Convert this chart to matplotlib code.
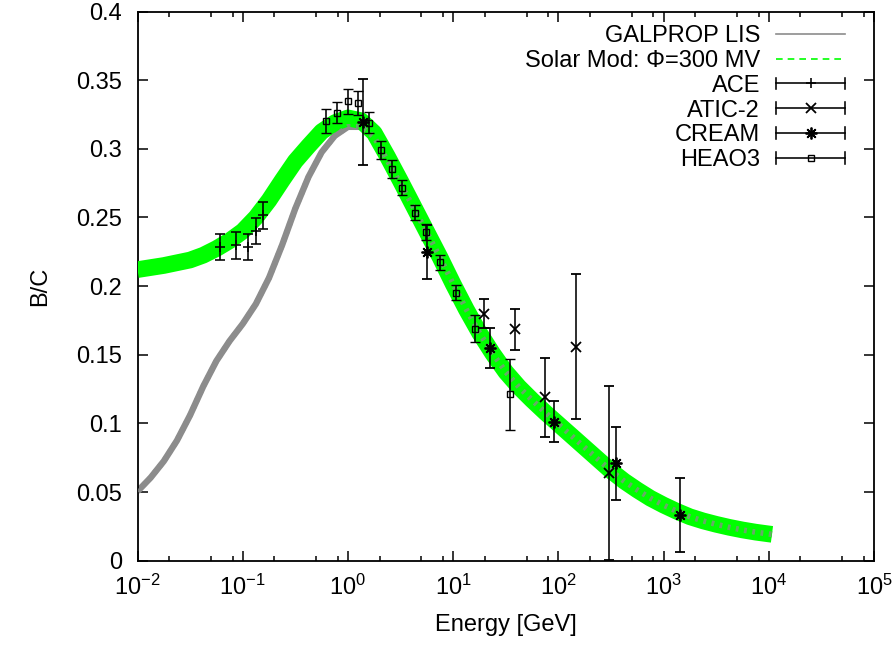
import matplotlib
matplotlib.use('Agg')
import matplotlib.pyplot as plt
from matplotlib.lines import Line2D
from matplotlib.legend_handler import HandlerBase
from matplotlib.ticker import LogLocator, MultipleLocator, FuncFormatter
import numpy as np

plt.rcParams['font.family'] = ['Liberation Sans', 'DejaVu Sans']
plt.rcParams['mathtext.fontset'] = 'custom'
plt.rcParams['mathtext.rm'] = 'Liberation Sans'
plt.rcParams['mathtext.it'] = 'Liberation Sans:italic'
plt.rcParams['mathtext.bf'] = 'Liberation Sans:bold'
plt.rcParams['axes.unicode_minus'] = False

# ---------------- data ----------------
# model curves on a common energy grid [GeV]
energy = [0.01, 0.01334, 0.01778, 0.02371, 0.03162, 0.04217, 0.05623, 0.07499,
          0.1, 0.1334, 0.1778, 0.2371, 0.3162, 0.4217, 0.5623, 0.7499,
          1.0, 1.334, 1.778, 2.371, 3.162, 4.217, 5.623, 7.499,
          10.0, 13.34, 17.78, 23.71, 31.62, 42.17, 56.23, 74.99,
          100.0, 133.4, 177.8, 237.1, 316.2, 421.7, 562.3, 749.9,
          1000.0, 1334.0, 1778.0, 2371.0, 3162.0, 4217.0, 5623.0, 7499.0,
          10000.0, 10720.0]
bc_lis = [0.0505, 0.0605, 0.0725, 0.0875, 0.1060, 0.1270, 0.1455, 0.1600,
          0.1725, 0.1870, 0.2060, 0.2300, 0.2565, 0.2795, 0.2975, 0.3095,
          0.3160, 0.3160, 0.3085, 0.2915, 0.2745, 0.257, 0.239, 0.221,
          0.2015, 0.183, 0.166, 0.151, 0.1375, 0.1265, 0.117, 0.108,
          0.0995, 0.091, 0.0825, 0.074, 0.0655, 0.058, 0.0515, 0.0455,
          0.0405, 0.036, 0.032, 0.029, 0.0265, 0.0243, 0.0224, 0.0208,
          0.0195, 0.0192]
bc_mod = [0.212, 0.2135, 0.215, 0.217, 0.219, 0.2225, 0.2273, 0.233,
          0.240, 0.250, 0.2625, 0.277, 0.291, 0.302, 0.3125, 0.319,
          0.3225, 0.3205, 0.3115, 0.2945, 0.2765, 0.258, 0.2395, 0.221,
          0.2015, 0.183, 0.166, 0.151, 0.1375, 0.1265, 0.117, 0.108,
          0.0995, 0.091, 0.0825, 0.074, 0.0655, 0.058, 0.0515, 0.0455,
          0.0405, 0.036, 0.032, 0.029, 0.0265, 0.0243, 0.0224, 0.0208,
          0.0195, 0.0192]

ace_e = [0.0607, 0.0861, 0.1127, 0.1334, 0.1567]
ace_v = [0.2285, 0.2298, 0.2285, 0.2400, 0.2516]
ace_err = [0.0097, 0.0097, 0.0097, 0.0097, 0.0097]

atic_e = [19.6, 38.5, 74.0, 146.0, 302.0]
atic_v = [0.1800, 0.1686, 0.1189, 0.1558, 0.0640]
atic_err = [0.0104, 0.0149, 0.0287, 0.0528, 0.0635]

cream_e = [1.38, 5.6, 22.6, 90.8, 356.0, 1439.0]
cream_v = [0.3195, 0.2249, 0.1546, 0.1012, 0.0709, 0.0333]
cream_err = [0.0310, 0.0195, 0.0146, 0.0148, 0.0267, 0.0270]

heao_e = [0.617, 0.789, 1.0, 1.25, 1.59, 2.08, 2.63, 3.3, 4.32, 5.57, 7.46, 10.6, 16.0, 34.4]
heao_v = [0.3202, 0.3263, 0.3348, 0.3336, 0.3190, 0.2990, 0.2853, 0.2718, 0.2536,
          0.2395, 0.2172, 0.1953, 0.1691, 0.1211]
heao_err = [0.0089, 0.0076, 0.0091, 0.0088, 0.0076, 0.0064, 0.0063, 0.0057, 0.0057,
            0.0057, 0.0056, 0.0055, 0.0099, 0.0261]

labels = ['GALPROP LIS', 'Solar Mod: \u03a6=300 MV', 'ACE', 'ATIC-2', 'CREAM', 'HEAO3']

GRAY = '#8c8c8c'
GREEN = '#00ff00'
ASTER = (8, 2, 0)

# ---------------- figure ----------------
fig = plt.figure(figsize=(8.96, 6.45), dpi=100)
L, R, T, B = 137.5, 874.0, 11.5, 560.7
ax = fig.add_axes([L / 896, 1 - B / 645, (R - L) / 896, (B - T) / 645])

ax.plot(energy, bc_lis, color=GRAY, lw=4.6, solid_capstyle='butt',
        solid_joinstyle='round', zorder=2)
ax.plot(energy, bc_mod, color=GREEN, lw=12, solid_capstyle='butt',
        solid_joinstyle='round', zorder=3)
ax.plot(energy, bc_lis, color=GRAY, lw=4.0, ls=(0, (0.5, 1.0)), alpha=0.75,
        dash_capstyle='butt', zorder=4)

eb_kw = dict(ls='none', color='k', ecolor='k', elinewidth=1.15, capsize=3.7,
             capthick=1.15, zorder=5)
ax.errorbar(ace_e, ace_v, yerr=ace_err, marker='+', ms=7, mew=1.15, **eb_kw)
ax.errorbar(atic_e, atic_v, yerr=atic_err, marker='x', ms=7.5, mew=1.3, **eb_kw)
ax.errorbar(cream_e, cream_v, yerr=cream_err, marker=ASTER, ms=8.5, mew=1.3, **eb_kw)
ax.errorbar(heao_e, heao_v, yerr=heao_err, marker='s', ms=3.8, mew=1.0,
            mfc='none', mec='k', **eb_kw)

ax.set_xscale('log')
ax.set_xlim(1e-2, 1e5)
ax.set_ylim(0, 0.4)
ax.xaxis.set_major_locator(LogLocator(base=10, numticks=20))
ax.xaxis.set_minor_locator(LogLocator(base=10, subs=(2, 5, 8), numticks=40))
ax.xaxis.set_major_formatter(FuncFormatter(
    lambda v, p: r'$\mathregular{10^{%d}}$' % int(round(np.log10(v)))))
ax.xaxis.set_minor_formatter(FuncFormatter(lambda v, p: ''))
ax.yaxis.set_major_locator(MultipleLocator(0.05))
ax.yaxis.set_major_formatter(FuncFormatter(lambda v, p: '%g' % round(v, 3)))

ax.tick_params(which='both', direction='in', top=True, right=True, color='k')
ax.tick_params(which='major', length=7.5, width=1.1, labelsize=17)
ax.tick_params(axis='x', which='major', pad=10)
ax.tick_params(axis='y', which='major', pad=11)
ax.tick_params(which='minor', length=3.8, width=1.1)
for s in ax.spines.values():
    s.set_linewidth(1.3)

ax.set_xlabel('Energy [GeV]', fontsize=17)
ax.set_ylabel('B/C', fontsize=17)
ax.xaxis.set_label_coords(0.5, -0.097)
ax.yaxis.set_label_coords(-0.132, 0.5)
ax.yaxis.label.set_va('center')


# ---------------- gnuplot-like legend ----------------
class GPProxy:
    def __init__(self, marker, ms, mew, mfc):
        self.marker, self.ms, self.mew, self.mfc = marker, ms, mew, mfc


class GPErrHandler(HandlerBase):
    def create_artists(self, legend, h, xdescent, ydescent, width, height,
                       fontsize, trans):
        x0 = -xdescent
        x1 = -xdescent + width
        y = -ydescent + height / 2.0
        c = 4.2
        arts = [Line2D([x0, x1], [y, y], color='k', lw=1.15),
                Line2D([x0, x0], [y - c, y + c], color='k', lw=1.15),
                Line2D([x1, x1], [y - c, y + c], color='k', lw=1.15),
                Line2D([(x0 + x1) / 2.0], [y], ls='none', marker=h.marker,
                       ms=h.ms, mew=h.mew, mfc=h.mfc, mec='k', color='k')]
        for a in arts:
            a.set_transform(trans)
        return arts


handles = [Line2D([], [], color=GRAY, lw=1.2),
           Line2D([], [], color=GREEN, lw=1.2, ls=(0, (4, 3))),
           GPProxy('+', 7, 1.15, 'k'),
           GPProxy('x', 7.5, 1.3, 'k'),
           GPProxy(ASTER, 8.5, 1.3, 'k'),
           GPProxy('s', 3.8, 1.0, 'none')]

leg = ax.legend(handles, labels, handler_map={GPProxy: GPErrHandler()},
                loc='upper right', bbox_to_anchor=(0.9606, 0.9754),
                frameon=False, markerfirst=False, handlelength=2.92,
                handletextpad=0.68, labelspacing=0.12, borderpad=0,
                borderaxespad=0, fontsize=17)

fig.savefig('out.png', dpi=100)
